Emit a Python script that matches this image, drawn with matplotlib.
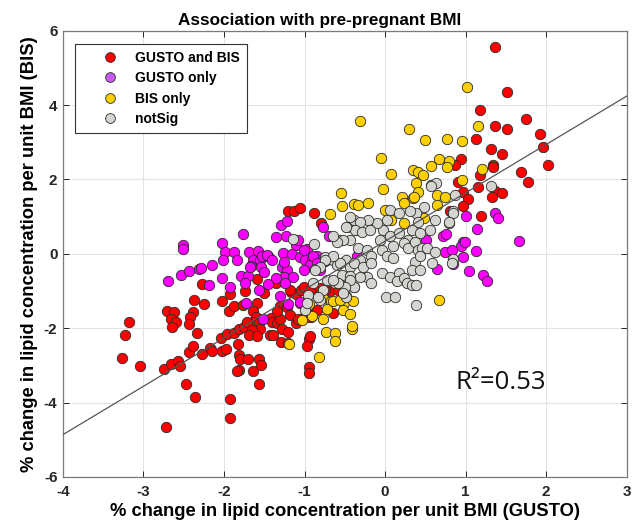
import matplotlib
matplotlib.use("Agg")
import matplotlib.pyplot as plt
from matplotlib.lines import Line2D

# ---------------- data ----------------
both_x = [-3.18, -3.23, -3.27, -3.04, -2.72, -2.75, -2.66, -2.57, -2.55, -2.71, -2.62, -2.66, -2.60, -2.65,
          -2.47, -2.36, -2.39, -2.42, -2.43, -2.37, -2.25, -2.34, -2.44, -2.39, -2.27, -2.18, -2.15, -2.27,
          -2.02, -1.93, -1.94, -2.04, -1.96, -1.88, -1.81, -1.75, -2.02, -1.97, -1.81, -1.80, -1.70, -1.83,
          -1.81, -1.84, -1.64, -1.56, -1.54, -1.56, -1.93, -1.93, -1.87, -1.76, -1.74, -1.59, -1.59, -1.64,
          -1.60, -1.64, -1.72, -1.57, -1.55, -1.65, -1.69, -1.59, -1.43, -1.50, -1.42, -1.41, -1.34, -1.30,
          -1.28, -1.21, -1.29, -1.20, -0.95, -0.97, -0.95, -0.94, -1.31, -1.34, -1.22, -1.18, -1.17, -1.11,
          -1.04, -1.11, -1.08, -1.00, -0.92, -1.21, -1.13, -1.06, -0.88, -0.79,
          -1.01, -0.93, -0.81, -0.68, -0.97, -0.91, -0.64, -0.81, -0.75, -0.58, -1.06, -0.85, -0.93, -1.39,
          -1.35, -1.18,
          1.37, 1.52, 1.18, 1.75, 1.36, 1.51, 1.13, 1.92, 1.96, 1.32, 1.45, 2.02, 1.69, 1.78, 0.94, 0.87,
          1.34, 1.34, 1.18, 0.91, 1.15, 0.97, 1.03, 0.97, 1.36, 1.45, 1.33, 1.19, 0.81]
both_y = [-1.83, -2.19, -2.79, -3.02, -4.65, -3.09, -2.96, -2.88, -3.01, -1.54, -1.57, -1.75, -1.84, -1.96,
          -3.49, -3.84, -1.57, -1.70, -1.88, -1.24, -1.34, -2.12, -2.63, -2.47, -2.68, -2.52, -2.61, -0.81,
          -1.26, -1.09, -1.54, -2.27, -2.16, -2.12, -2.02, -1.96, -2.61, -2.56, -2.71, -2.83, -2.83, -2.43,
          -3.11, -3.16, -3.14, -2.82, -3.00, -3.50, -3.89, -4.41, -1.40, -1.37, -0.99, -0.68, -1.33, -1.54,
          -1.69, -1.83, -1.83, -1.86, -2.02, -2.04, -2.18, -2.20, -2.19, -1.06, -1.73, -1.84, -1.85, -1.75,
          -2.02, -2.09, -2.38, -2.39, -2.29, -2.49, -3.04, -3.21, -1.40, -1.53, -1.42, -1.65, -1.02, -1.08,
          -0.97, -1.85, -1.76, -1.66, -1.71, 1.14, 1.14, 1.23, 1.09, 0.84,
          -0.88, -0.97, -1.06, -1.01, -1.69, -1.64, -1.59, -0.92, -0.97, -0.97, -1.33, -1.51, -2.22, -2.18,
          -0.79, -0.97,
          5.56, 4.35, 3.87, 3.62, 3.45, 3.35, 3.08, 3.23, 2.87, 2.83, 2.69, 2.39, 2.19, 1.93, 2.55, 2.39,
          2.40, 2.33, 2.12, 1.92, 1.81, 1.66, 1.47, 1.29, 1.68, 1.63, 1.52, 1.02, 1.14]

gusto_x = [-2.51, -2.51, -2.69, -2.53, -2.43, -2.31, -2.28, -2.15, -2.19, -2.02, -1.99, -2.01, -1.88, -1.84,
           -1.77, -2.03, -1.93, -1.79, -1.70, -1.74, -1.69, -1.58, -1.64, -1.55, -1.49, -1.45, -1.66, -1.54,
           -1.50, -1.57, -1.45, -1.73, -1.51, -1.35, -1.29, -1.22, -1.27, -1.16, -1.06, -1.28, -1.22, -1.25,
           -1.14, -1.31, -1.20, -1.06, -1.10, -1.08, -0.97, -0.99, -0.91, -0.85, -0.93, -1.01, -0.77, -0.70,
           -0.80, -0.75, -1.53, -1.47, -1.41, -1.68, -1.35, -1.23, -1.26, -1.24,
           -0.35, -1.01, -0.89, -0.85, -0.81,
           1.01, 1.37, 1.40, 1.14, 1.67, 0.72, 0.76, 0.51, 0.97, 0.94, 0.75, 0.83, 1.13, 0.97, 0.84, 0.65,
           1.04, 1.22, 1.27, 0.99]
gusto_y = [0.24, 0.13, -0.73, -0.58, -0.45, -0.40, -0.39, -0.31, -0.85, 0.30, 0.05, -0.16, 0.05, -0.16,
           0.54, -0.66, -0.90, -0.59, -0.59, -0.79, 0.05, 0.09, -0.16, -0.16, -0.05, -0.07, -0.32, -0.34,
           -0.50, -0.97, -0.82, -1.33, -1.74, 0.45, 0.77, 0.88, 0.02, 0.00, -0.09, -0.34, -0.43, -0.61,
           -0.63, -1.12, -1.34, -1.29, 0.25, 0.38, 0.13, -0.16, -0.16, -0.07, -0.30, -0.43, 0.73, 0.48,
           -0.16, -0.20, -0.07, -0.03, -0.16, -0.34, -0.65, 0.47, -0.21, -0.79,
           -0.07, 0.11, -0.07, -0.25, -0.43,
           1.02, 1.11, 0.96, 0.66, 0.34, 0.47, 0.54, 0.38, 0.33, 0.22, 0.06, 0.11, 0.07, -0.09, -0.28, -0.40,
           -0.46, -0.58, -0.74, 0.33]

bis_x = [-0.55, -0.53, -0.68, -0.39, -0.33, -0.21, -0.95, -1.03, -0.91, -0.77, -0.67, -0.72, -0.77, -0.64,
         -0.51, -0.52, -0.43, -0.40, -0.41, -0.73, -0.62, -0.62, -0.82, -1.19, -0.41, -0.56,
         1.02, -0.31, 0.30, 0.50, 0.77, 0.96, 1.15, -0.05, 0.67, 0.79, 0.77, 0.57, 0.08, 0.35, 0.41, 0.47,
         0.39, 0.41, 0.35, 0.57, 0.95, 1.21, -0.03, 0.21, 0.24, 0.36, 0.65, 0.64, 0.74, 0.00, 0.08, 0.23,
         0.48, 0.67]
bis_y = [1.65, 1.29, 1.07, 1.34, 1.32, 1.38, -1.35, -1.77, -1.66, -1.19, -1.28, -1.49, -1.75, -1.28,
         -1.33, -1.52, -1.62, -1.28, -2.02, -2.09, -2.12, -2.33, -2.78, -2.43, -1.95, -1.24,
         4.49, 3.57, 3.36, 3.06, 3.08, 3.04, 3.44, 2.57, 2.55, 2.50, 2.33, 2.35, 2.15, 2.26, 2.19, 2.12,
         1.90, 1.67, 1.51, 1.84, 1.99, 2.28, 1.74, 1.54, 1.38, 1.54, 1.59, 1.32, 1.52, 1.18, 0.91, 0.82,
         0.96, -1.24]

ns_x = [-1.14, -0.88, -0.87, -0.96, -0.81, -1.00, -0.75, -0.64, -0.60, -0.48, -0.43, -0.54, -0.43, -0.72,
        -0.62, -0.50, -0.39, -0.48, -0.56, -0.47, -0.39, -0.35, -0.43, -0.33,
        1.32, 0.87, 0.84, 0.79, 0.63, 0.62, 0.56, 0.48, 0.39, 0.31, 0.41, 0.33, 0.29, 0.43, 0.06, 0.17,
        0.03, -0.02, -0.10, -0.21, -0.31, -0.43, -0.37, -0.29, -0.19, -0.48, -0.52, -0.60, -0.64, -0.06,
        0.06, 0.17, 0.10, 0.23, -0.04, 0.02, 0.10, 0.29, 0.37, 0.41, 0.46, 0.37, 0.43, 0.33, 0.43, 0.52,
        0.62, 0.58, 0.84, 0.83, -0.23, -0.17, -0.31, -0.39, -0.27, -0.17, -0.04, 0.06, 0.17, 0.15, 0.23,
        0.27, 0.33, 0.39, 0.39, 0.01, 0.12, -0.23, -0.17, -0.31, -0.39, -0.43, -0.50, -0.58, -0.64, -0.56,
        -0.64, -0.75, -0.81, -0.87, -0.89, -0.77, -0.83, -0.97, -0.48, -0.52, 0.57, 0.84, 0.79]
ns_y = [0.39, 0.27, -0.41, -1.11, -1.25, -1.51, -0.09, -0.16, -0.30, -0.16, -0.34, -0.56, -0.59, -0.70,
        -0.79, -0.86, -0.90, -1.13, 0.36, 0.72, 0.91, 0.65, 0.38, 0.15,
        1.83, 1.57, 1.14, 0.84, 1.90, 0.91, 0.65, 1.27, 1.09, 1.14, 0.87, 0.65, 0.38, 0.56, 1.18, 1.09,
        0.91, 0.65, 0.82, 0.91, 0.87, 1.00, 0.65, 0.60, 0.65, 0.73, 0.38, 0.33, 0.47, 0.36,
        0.47, 0.56, 0.20, 0.29, 0.11, -0.07, -0.12, 0.15, 0.33, 0.11, 0.15, -0.21, -0.07, -0.43, -0.43, 0.15,
        0.06, -0.25, -0.14, -0.25, 0.11, -0.07, -0.16, -0.25, -0.34, -0.25, -0.52, -0.61, -0.52, -0.74, -0.65,
        -0.79, -0.83, -0.83, -1.37, -1.16, -1.16, -0.61, -0.79, -0.61, -0.88, -0.70, -0.88, -0.79, -0.70, -0.25,
        -0.07, -0.16, -0.34, -0.43, -0.79, -0.97, -1.15, -1.33, -1.15, -1.06, 1.83, 1.11, 0.87]

fit_slope = 1.30
fit_intercept = 0.34
r2_label = "R\u00b2=0.53"

labels = ["GUSTO and BIS", "GUSTO only", "BIS only", "notSig"]
x_ticks = [-4, -3, -2, -1, 0, 1, 2, 3]
y_ticks = [-6, -4, -2, 0, 2, 4, 6]

# ---------------- plot ----------------
plt.rcParams['font.family'] = ['Liberation Sans', 'DejaVu Sans']

fig = plt.figure(figsize=(6.4, 5.3), dpi=100)
ax = fig.add_axes([0.0984, 0.100, 0.8806, 0.842])

edge = '#2a2a2a'
ms = 56
ax.scatter(both_x, both_y, s=ms, c='#ff0000', edgecolors=edge, linewidths=0.6, zorder=2)
ax.scatter(gusto_x, gusto_y, s=ms, c='#ff00ff', edgecolors=edge, linewidths=0.6, zorder=2)
ax.scatter(bis_x, bis_y, s=ms, c='#ffd000', edgecolors=edge, linewidths=0.6, zorder=2)
ax.scatter(ns_x, ns_y, s=ms, c='#d4d4d0', edgecolors=edge, linewidths=0.6, zorder=2)

ax.axline((0, fit_intercept), slope=fit_slope, color='#555555', lw=0.9, zorder=3)

ax.set_xlim(-4, 3)
ax.set_ylim(-6, 6)
ax.set_xticks(x_ticks)
ax.set_yticks(y_ticks)
ax.set_xticklabels([str(t) for t in x_ticks], fontweight='bold', fontsize=11)
ax.set_yticklabels([str(t) for t in y_ticks], fontweight='bold', fontsize=11)
ax.tick_params(axis='x', pad=6)
ax.tick_params(axis='y', pad=4)
ax.tick_params(direction='in', top=True, right=True, length=4, width=0.7, colors='#262626')
ax.grid(True, color='#e3e3e3', lw=0.8, zorder=0)
ax.set_axisbelow(True)
for sp in ax.spines.values():
    sp.set_color('#7a7a7a')
    sp.set_linewidth(0.9)

ax.set_title("Association with pre-pregnant BMI", fontweight='bold', fontsize=12.3, pad=4, x=0.456)
ax.set_xlabel("% change in lipid concentration per unit BMI (GUSTO)", fontweight='bold',
              fontsize=13.2, labelpad=3)
ax.set_ylabel("% change in lipid concentration per unit BMI (BIS)", fontweight='bold',
              fontsize=13.2, labelpad=4)

ax.text(0.87, -3.47, r2_label, fontsize=18.5, ha='left', va='center',
        family=['Open Sans', 'DejaVu Sans'], color='#111111')

leg_colors = ['#ff0000', '#c65cf2', '#ffd000', '#d4d4d0']
handles = [Line2D([], [], marker='o', ls='none', markersize=7, markerfacecolor=c,
                  markeredgecolor=edge, markeredgewidth=0.6) for c in leg_colors]
leg = ax.legend(handles, labels, loc='upper left', bbox_to_anchor=(0.021, 0.97),
                borderaxespad=0, fancybox=False, framealpha=1, edgecolor='#333333',
                prop={'weight': 'bold', 'size': 10}, handlelength=4.0, handletextpad=-0.15,
                labelspacing=0.45, borderpad=0.5)
leg.get_frame().set_linewidth(0.8)

fig.savefig("out.png", dpi=100)
